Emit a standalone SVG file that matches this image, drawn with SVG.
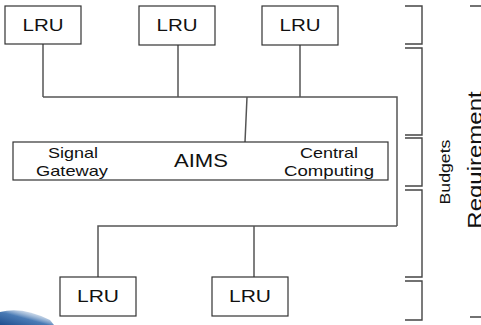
<svg xmlns="http://www.w3.org/2000/svg" width="481" height="325" viewBox="0 0 481 325">
<style>
.box{fill:#fff;stroke:#333;stroke-width:1.2}
.ln{fill:none;stroke:#555;stroke-width:1.5}
.br{fill:none;stroke:#444;stroke-width:1.4}
text{font-family:"Liberation Sans",Arial,sans-serif;fill:#111}
.lru{font-size:16.5px;text-anchor:middle}
.sm{font-size:14.5px;text-anchor:middle}
.big{font-size:18px;text-anchor:middle}
.rot{font-size:17.7px;text-anchor:middle}
.rot2{font-size:24px;text-anchor:middle}
</style>
<defs>
<linearGradient id="sw" x1="0" y1="1" x2="1" y2="0">
<stop offset="0" stop-color="#1f4f8f"/>
<stop offset="0.45" stop-color="#4a7bb5"/>
<stop offset="1" stop-color="#ffffff" stop-opacity="0"/>
</linearGradient>
</defs>
<rect width="481" height="325" fill="#fff"/>
<path d="M0,325 L0,312 Q22,306 50,320 L54,325 Z" fill="url(#sw)"/>
<g id="connectors">
<path class="ln" d="M43,44 V97 M178,45 V97 M300,45 V97 M43,97 H397 V226 M247,97 L245,142 M98,277 V226 H397 M254,226 V277"/>
</g>
<g id="lru1"><rect class="box" x="5" y="6" width="76" height="38"/><text class="lru" x="43" y="31" textLength="41" lengthAdjust="spacingAndGlyphs">LRU</text></g>
<g id="lru2"><rect class="box" x="139" y="6" width="76" height="39"/><text class="lru" x="177" y="31" textLength="41" lengthAdjust="spacingAndGlyphs">LRU</text></g>
<g id="lru3"><rect class="box" x="262" y="6" width="76" height="39"/><text class="lru" x="300" y="31" textLength="41" lengthAdjust="spacingAndGlyphs">LRU</text></g>
<g id="aims"><rect class="box" x="13" y="142" width="375" height="38"/>
<text class="sm" x="73" y="158" textLength="50" lengthAdjust="spacingAndGlyphs">Signal</text>
<text class="sm" x="72" y="176" textLength="72" lengthAdjust="spacingAndGlyphs">Gateway</text>
<text class="big" x="201" y="167" textLength="54" lengthAdjust="spacingAndGlyphs">AIMS</text>
<text class="sm" x="329" y="158" textLength="58" lengthAdjust="spacingAndGlyphs">Central</text>
<text class="sm" x="329" y="176" textLength="90" lengthAdjust="spacingAndGlyphs">Computing</text>
</g>
<g id="lru4"><rect class="box" x="60" y="277" width="76" height="39"/><text class="lru" x="98" y="302" textLength="42" lengthAdjust="spacingAndGlyphs">LRU</text></g>
<g id="lru5"><rect class="box" x="212" y="277" width="76" height="39"/><text class="lru" x="250" y="302" textLength="42" lengthAdjust="spacingAndGlyphs">LRU</text></g>
<g id="brackets">
<path class="br" d="M405,6 H422 V44 H405 M405,48 H422 V135 H405 M405,138 H422 V186 H405 M405,190 H422 V277 H405 M405,281 H422 V320 H405 M470,6 H481 M470,317 H481"/>
</g>
<g id="budgets"><text class="rot" transform="translate(450,172) rotate(-90) scale(1,0.82)">Budgets</text></g>
<g id="requirement"><text class="rot2" transform="translate(482,160) rotate(-90) scale(1,0.82)">Requirement</text></g>
</svg>
